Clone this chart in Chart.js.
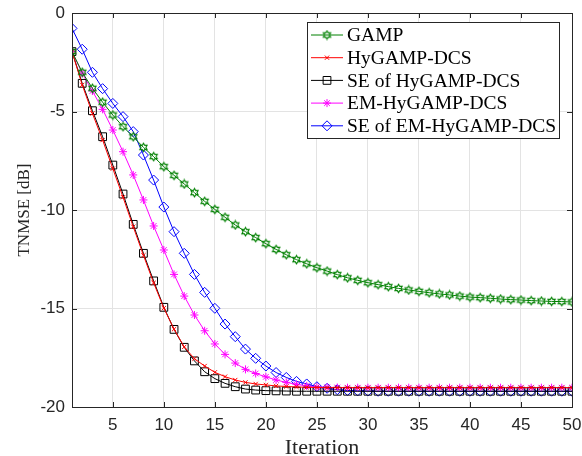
<!DOCTYPE html>
<html>
<head>
<meta charset="utf-8">
<script src="https://cdn.jsdelivr.net/npm/chart.js@4"></script>
<style>
    html, body { margin: 0; padding: 0; background: #fff; }
    #chart { display: block; }
</style>
</head>
<body>
<canvas id="chart" width="582" height="456"></canvas>
<script>
/* global Chart */

const iterations = [1, 2, 3, 4, 5, 6, 7, 8, 9, 10, 11, 12, 13, 14, 15, 16, 17, 18, 19, 20,
    21, 22, 23, 24, 25, 26, 27, 28, 29, 30, 31, 32, 33, 34, 35, 36, 37, 38, 39, 40,
    41, 42, 43, 44, 45, 46, 47, 48, 49, 50];

const xTicks = [5, 10, 15, 20, 25, 30, 35, 40, 45, 50];
const yTicks = [-20, -15, -10, -5, 0];

const gamp = [-1.96, -3.01, -3.82, -4.53, -5.18, -5.77, -6.28, -6.82, -7.29, -7.80,
    -8.24, -8.68, -9.12, -9.56, -9.97, -10.37, -10.76, -11.10, -11.40, -11.71,
    -12.00, -12.27, -12.52, -12.73, -12.93, -13.10, -13.28, -13.44, -13.57, -13.69,
    -13.79, -13.89, -13.98, -14.06, -14.13, -14.20, -14.26, -14.31, -14.37, -14.42,
    -14.45, -14.48, -14.52, -14.55, -14.57, -14.60, -14.62, -14.64, -14.65, -14.67];

const hyGamp = [-1.96, -3.65, -5.10, -6.45, -7.90, -9.35, -10.85, -12.30, -13.70, -14.98,
    -16.05, -16.95, -17.55, -17.92, -18.24, -18.46, -18.63, -18.75, -18.83, -18.88,
    -18.93, -18.96, -18.98, -19.00, -19.01, -19.02, -19.02, -19.02, -19.02, -19.02,
    -19.02, -19.02, -19.02, -19.02, -19.02, -19.02, -19.02, -19.02, -19.02, -19.02,
    -19.02, -19.02, -19.02, -19.02, -19.02, -19.02, -19.02, -19.02, -19.02, -19.02];

const seHyGamp = [-1.96, -3.57, -4.96, -6.28, -7.72, -9.19, -10.73, -12.20, -13.60, -14.94,
    -16.06, -16.97, -17.66, -18.21, -18.56, -18.80, -18.97, -19.09, -19.14, -19.17,
    -19.18, -19.19, -19.20, -19.20, -19.20, -19.20, -19.20, -19.20, -19.20, -19.20,
    -19.20, -19.20, -19.20, -19.20, -19.20, -19.20, -19.20, -19.20, -19.20, -19.20,
    -19.20, -19.20, -19.20, -19.20, -19.20, -19.20, -19.20, -19.20, -19.20, -19.20];

const emHyGamp = [-1.96, -3.06, -3.96, -4.89, -5.94, -7.04, -8.22, -9.49, -10.81, -12.03,
    -13.27, -14.37, -15.33, -16.13, -16.80, -17.33, -17.77, -18.09, -18.30, -18.47,
    -18.63, -18.75, -18.85, -18.93, -18.98, -19.00, -19.01, -19.02, -19.02, -19.02,
    -19.02, -19.02, -19.02, -19.02, -19.02, -19.02, -19.02, -19.02, -19.02, -19.02,
    -19.02, -19.02, -19.02, -19.02, -19.02, -19.02, -19.02, -19.02, -19.02, -19.02];

const seEmHyGamp = [-0.78, -1.84, -3.01, -3.84, -4.59, -5.26, -6.02, -7.21, -8.48, -9.85,
    -11.10, -12.20, -13.27, -14.18, -14.99, -15.79, -16.43, -17.06, -17.53, -17.92,
    -18.25, -18.50, -18.70, -18.83, -18.97, -19.05, -19.12, -19.16, -19.18, -19.19,
    -19.20, -19.20, -19.20, -19.20, -19.20, -19.20, -19.20, -19.20, -19.20, -19.20,
    -19.20, -19.20, -19.20, -19.20, -19.20, -19.20, -19.20, -19.20, -19.20, -19.20];

const AXIS_COLOR = '#262626';
const GRID_COLOR = '#e3e3e3';
const SERIF = '"Liberation Serif", "DejaVu Serif", serif';
const SANS = '"Liberation Sans", Arial, sans-serif';

function hexagramPath(ctx, x, y, r) {
    const inner = r / Math.sqrt(3);
    ctx.beginPath();
    for (let i = 0; i < 12; i++) {
        const ang = -Math.PI / 2 + i * Math.PI / 6;
        const rr = i % 2 === 0 ? r : inner;
        const px = x + Math.cos(ang) * rr;
        const py = y + Math.sin(ang) * rr;
        if (i === 0) ctx.moveTo(px, py); else ctx.lineTo(px, py);
    }
    ctx.closePath();
}

function makeHexagram(color) {
    const c = document.createElement('canvas');
    c.width = 11;
    c.height = 11;
    const ctx = c.getContext('2d');
    ctx.strokeStyle = color;
    ctx.lineWidth = 1.1;
    hexagramPath(ctx, 5.5, 5.5, 4.2);
    ctx.stroke();
    return c;
}

function series(label, data, color, pointStyle, radius) {
    return {
        label,
        data: iterations.map((x, i) => ({ x, y: data[i] })),
        borderColor: color,
        backgroundColor: 'rgba(0,0,0,0)',
        borderWidth: 1,
        pointStyle,
        pointRadius: radius,
        pointBorderColor: color,
        pointBackgroundColor: 'rgba(0,0,0,0)',
        pointBorderWidth: 1,
        tension: 0
    };
}

const framePlugin = {
    id: 'frame',
    afterDraw(chart) {
        const { ctx, chartArea: a, scales } = chart;
        ctx.save();
        ctx.strokeStyle = AXIS_COLOR;
        ctx.lineWidth = 1;
        ctx.strokeRect(a.left + 0.5, a.top + 0.5, a.right - a.left, a.bottom - a.top);

        ctx.beginPath();
        xTicks.forEach(v => {
            const px = Math.round(scales.x.getPixelForValue(v)) + 0.5;
            ctx.moveTo(px, a.bottom);
            ctx.lineTo(px, a.bottom - 5);
            ctx.moveTo(px, a.top);
            ctx.lineTo(px, a.top + 5);
        });
        yTicks.forEach(v => {
            const py = Math.round(scales.y.getPixelForValue(v)) + 0.5;
            ctx.moveTo(a.left, py);
            ctx.lineTo(a.left + 5, py);
            ctx.moveTo(a.right, py);
            ctx.lineTo(a.right - 5, py);
        });
        ctx.stroke();

        drawLegend(chart);
        ctx.restore();
    }
};

function drawLegend(chart) {
    const { ctx } = chart;
    const box = { left: 307.5, top: 22.5, width: 252, height: 116 };
    ctx.fillStyle = '#fff';
    ctx.fillRect(box.left, box.top, box.width, box.height);
    ctx.strokeStyle = AXIS_COLOR;
    ctx.lineWidth = 1;
    ctx.strokeRect(box.left, box.top, box.width, box.height);

    ctx.font = '19.5px ' + SERIF;
    ctx.textBaseline = 'middle';
    ctx.textAlign = 'left';

    chart.data.datasets.forEach((ds, i) => {
        const y = 35 + i * 22.7;
        ctx.strokeStyle = ds.borderColor;
        ctx.lineWidth = 1;
        ctx.beginPath();
        ctx.moveTo(311, y);
        ctx.lineTo(343, y);
        ctx.stroke();

        if (ds.pointStyle instanceof HTMLCanvasElement) {
            ctx.drawImage(ds.pointStyle, 327 - ds.pointStyle.width / 2, y - ds.pointStyle.height / 2);
        } else {
            ctx.fillStyle = 'rgba(0,0,0,0)';
            Chart.helpers.drawPoint(ctx, {
                pointStyle: ds.pointStyle,
                radius: ds.pointRadius,
                rotation: 0,
                borderWidth: 1
            }, 327, y);
        }

        ctx.fillStyle = '#000';
        ctx.fillText(ds.label, 347, y + 1);
    });
}

document.addEventListener('DOMContentLoaded', () => {
    const hexagram = makeHexagram('#008000');

    new Chart(document.getElementById('chart'), {
        type: 'line',
        data: {
            datasets: [
                series('GAMP', gamp, '#008000', hexagram, 4),
                series('HyGAMP-DCS', hyGamp, '#ff0000', 'crossRot', 3),
                series('SE of HyGAMP-DCS', seHyGamp, '#000000', 'rect', 5.5),
                series('EM-HyGAMP-DCS', emHyGamp, '#ff00ff', 'star', 4),
                series('SE of EM-HyGAMP-DCS', seEmHyGamp, '#0000ff', 'rectRot', 5)
            ]
        },
        options: {
            responsive: false,
            animation: false,
            devicePixelRatio: 1,
            layout: { padding: { top: 13, right: 10, left: 0, bottom: 0 } },
            plugins: {
                legend: { display: false },
                tooltip: { enabled: false }
            },
            scales: {
                x: {
                    type: 'linear',
                    min: 1,
                    max: 50,
                    afterBuildTicks: scale => { scale.ticks = xTicks.map(value => ({ value })); },
                    afterFit: scale => {
                        scale.height = 49;
                        scale.paddingLeft = 0;
                        scale.paddingRight = 0;
                    },
                    grid: { color: GRID_COLOR, drawTicks: false },
                    border: { display: false },
                    ticks: {
                        color: AXIS_COLOR,
                        font: { family: SANS, size: 17 },
                        padding: 8,
                        maxRotation: 0
                    },
                    title: {
                        display: true,
                        text: 'Iteration',
                        color: AXIS_COLOR,
                        font: { family: SERIF, size: 22, lineHeight: 1 },
                        padding: { top: 0, bottom: -3 }
                    }
                },
                y: {
                    type: 'linear',
                    min: -20,
                    max: 0,
                    afterBuildTicks: scale => { scale.ticks = yTicks.map(value => ({ value })); },
                    afterFit: scale => {
                        scale.width = 72;
                        scale.paddingTop = 0;
                        scale.paddingBottom = 0;
                    },
                    grid: { color: GRID_COLOR, drawTicks: false },
                    border: { display: false },
                    ticks: {
                        color: AXIS_COLOR,
                        font: { family: SANS, size: 17 },
                        padding: 7
                    },
                    title: {
                        display: true,
                        text: 'TNMSE [dB]',
                        color: AXIS_COLOR,
                        font: { family: SERIF, size: 17 },
                        padding: { top: 14, bottom: 0 }
                    }
                }
            }
        },
        plugins: [framePlugin]
    });
});
</script>
</body>
</html>
